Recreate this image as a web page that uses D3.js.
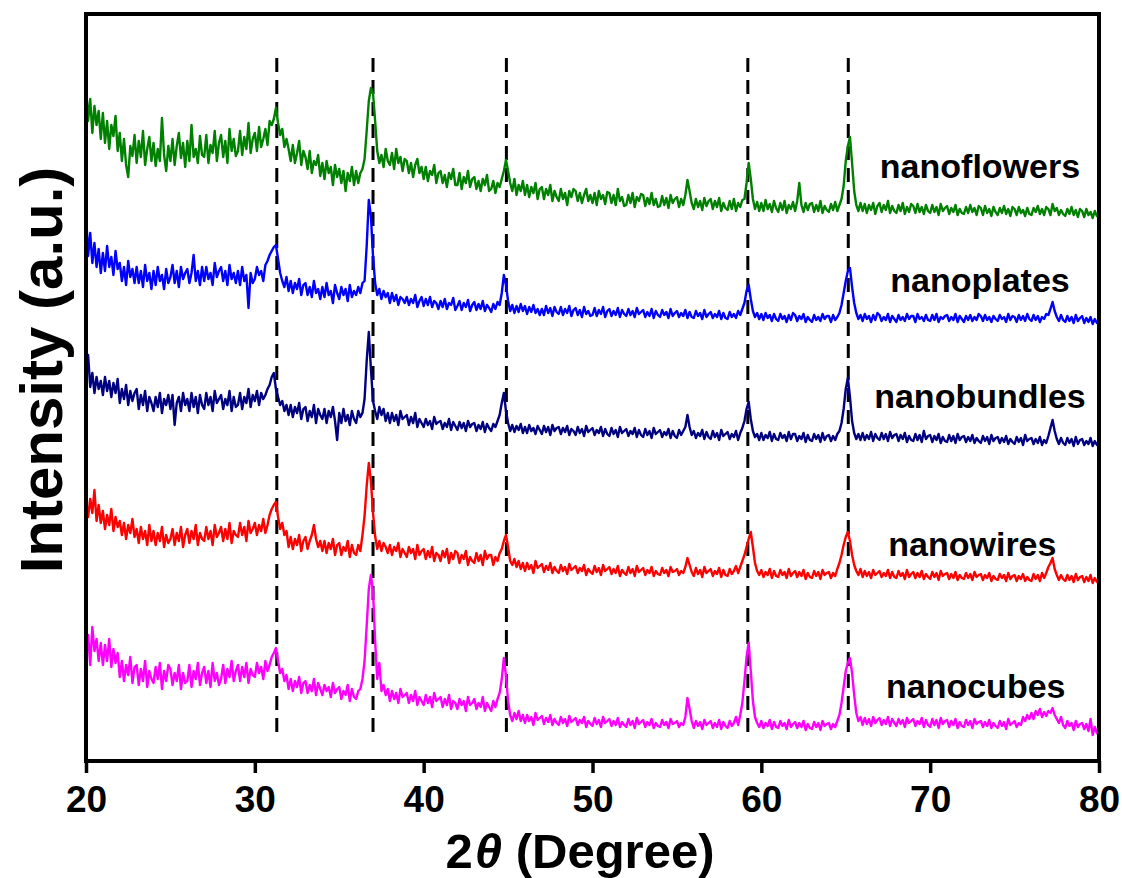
<!DOCTYPE html>
<html>
<head>
<meta charset="utf-8">
<script src="https://cdn.jsdelivr.net/npm/d3@7"></script>
<style>
  html, body { margin: 0; padding: 0; background: #fff; }
  svg { display: block; }
  text { font-family: "Liberation Sans", Arial, sans-serif; font-weight: bold; fill: #000; }
</style>
</head>
<body>
<svg id="chart" width="1122" height="878"></svg>
<script>
// 2θ grid: 20° to 80° in 0.125° steps (481 points per pattern, 8 per row = 1°)
const twoThetaStart = 20;
const twoThetaStep = 0.125;

// Stacked XRD intensities (a.u., vertical offset included), top to bottom
const nanoflowers = [
  676, 640, 662, 628, 655, 636, 650, 622,
  648, 618, 640, 612, 636, 625, 645, 610,
  628, 600, 622, 596, 584, 615, 605, 626,
  598, 620, 604, 630, 596, 612, 624, 600,
  618, 595, 612, 600, 643, 606, 590, 615,
  600, 622, 596, 615, 628, 603, 618, 594,
  620, 600, 636, 604, 612, 598, 625, 606,
  604, 626, 598, 616, 608, 630, 600, 618,
  626, 604, 620, 598, 632, 610, 622, 605,
  610, 630, 606, 624, 612, 638, 608, 622,
  628, 610, 634, 614, 622, 632, 616, 640,
  636, 642, 653, 638, 626, 632, 614, 622,
  612, 600, 616, 598, 608, 620, 596, 610,
  604, 592, 610, 588, 600, 596, 606, 585,
  598, 582, 600, 588, 594, 576, 596, 584,
  592, 578, 590, 570, 588, 580, 594, 576,
  590, 578, 588, 592, 602, 630, 660, 673,
  668, 640, 610, 598, 606, 594, 612, 600,
  596, 608, 592, 612, 598, 604, 590, 602,
  600, 588, 598, 584, 596, 602, 588, 594,
  582, 594, 580, 590, 586, 596, 578, 588,
  590, 578, 586, 574, 588, 582, 592, 576,
  576, 588, 572, 584, 578, 590, 574, 582,
  584, 572, 580, 570, 582, 576, 586, 570,
  572, 580, 568, 578, 574, 582, 590, 601,
  590, 578, 570, 582, 566, 576, 570, 580,
  566, 576, 564, 574, 568, 578, 562, 572,
  574, 562, 572, 566, 576, 560, 570, 564,
  560, 572, 562, 568, 556, 570, 564, 572,
  570, 560, 568, 558, 566, 572, 560, 566,
  558, 568, 556, 570, 562, 566, 557, 569,
  568, 558, 566, 556, 572, 560, 564, 555,
  556, 566, 558, 568, 554, 564, 560, 567,
  566, 555, 563, 557, 568, 556, 562, 554,
  555, 565, 556, 563, 553, 566, 558, 562,
  564, 554, 562, 556, 566, 581, 570, 558,
  552, 562, 554, 560, 551, 563, 555, 560,
  562, 552, 560, 554, 563, 550, 558, 553,
  551, 560, 552, 562, 550, 558, 554, 561,
  562, 578, 598, 582, 562, 552, 559, 550,
  558, 550, 561, 552, 557, 549, 560, 553,
  549, 558, 551, 560, 548, 556, 552, 559,
  550, 560, 578, 556, 549, 558, 551, 557,
  558, 549, 556, 550, 560, 548, 555, 551,
  549, 557, 551, 559, 550, 556, 562, 575,
  600, 615, 624, 598, 570, 556, 550, 558,
  550, 557, 548, 556, 551, 558, 547, 555,
  558, 549, 556, 551, 560, 548, 555, 550,
  548, 556, 550, 558, 547, 554, 549, 557,
  555, 548, 557, 549, 554, 547, 556, 550,
  548, 556, 549, 554, 546, 557, 550, 553,
  555, 547, 553, 549, 556, 546, 552, 548,
  547, 554, 548, 556, 549, 553, 546, 555,
  553, 546, 555, 548, 552, 545, 554, 549,
  546, 553, 548, 555, 547, 552, 545, 554,
  552, 546, 554, 548, 551, 545, 553, 547,
  546, 553, 549, 555, 547, 552, 546, 554,
  552, 546, 557, 550, 553, 546, 551, 547,
  545, 552, 547, 554, 546, 551, 544, 552,
  550, 544, 552, 546, 549, 543, 550, 545,
  546
];
const nanoplates = [
  549, 505, 528, 498, 518, 494, 512, 488,
  508, 490, 515, 494, 504, 486, 510, 492,
  498, 480, 494, 476, 500, 484, 492, 478,
  494, 478, 490, 474, 496, 480, 488, 472,
  490, 476, 494, 480, 486, 472, 492, 478,
  484, 496, 478, 490, 474, 494, 482, 488,
  492, 478, 488, 506, 480, 490, 476, 494,
  480, 494, 482, 488, 476, 498, 484, 490,
  494, 480, 490, 476, 496, 482, 488, 478,
  490, 476, 494, 480, 486, 453, 488, 478,
  482, 494, 486, 490, 480, 496, 500, 506,
  510, 514, 516, 502, 488, 480, 474, 484,
  470, 480, 468, 478, 472, 482, 466, 476,
  478, 466, 474, 464, 480, 468, 472, 462,
  474, 464, 478, 466, 470, 458, 476, 468,
  462, 474, 466, 472, 460, 476, 464, 470,
  466, 474, 468, 478, 480, 515, 561, 545,
  505, 478, 466, 472, 462, 470, 464, 468,
  458, 468, 460, 466, 456, 464, 462, 458,
  464, 456, 462, 458, 466, 454, 460, 464,
  455, 462, 456, 464, 454, 460, 458, 452,
  460, 454, 462, 452, 458, 456, 463, 451,
  455, 460, 451, 458, 454, 461, 450, 456,
  459, 451, 457, 452, 460, 450, 456, 453,
  449, 457, 452, 459, 456, 468, 486, 476,
  460, 450, 456, 448, 455, 449, 457, 450,
  455, 447, 454, 449, 456, 448, 452, 446,
  452, 446, 455, 448, 453, 445, 454, 449,
  447, 454, 446, 452, 448, 455, 445, 451,
  453, 446, 451, 444, 454, 447, 450, 445,
  446, 453, 445, 451, 447, 454, 444, 450,
  452, 445, 450, 446, 453, 444, 451, 447,
  445, 452, 446, 450, 444, 453, 447, 449,
  451, 444, 449, 445, 452, 443, 450, 446,
  444, 451, 446, 449, 443, 452, 445, 448,
  450, 444, 448, 445, 451, 443, 449, 444,
  443, 450, 445, 448, 442, 451, 444, 447,
  449, 443, 447, 444, 450, 442, 448, 443,
  442, 449, 444, 447, 443, 450, 446, 452,
  458, 470, 476, 462, 450, 444, 448, 442,
  447, 441, 448, 443, 446, 440, 447, 442,
  440, 447, 442, 445, 439, 446, 441, 448,
  446, 440, 445, 442, 447, 439, 444, 441,
  439, 446, 441, 444, 440, 447, 442, 445,
  445, 439, 446, 441, 444, 448, 456, 468,
  480, 490, 493, 474, 458, 448, 442, 446,
  440, 447, 442, 445, 439, 446, 441, 448,
  446, 440, 444, 441, 447, 439, 445, 442,
  439, 446, 441, 444, 440, 447, 442, 445,
  445, 439, 447, 442, 444, 440, 446, 441,
  440, 446, 441, 447, 439, 444, 442, 445,
  446, 440, 444, 441, 447, 439, 445, 442,
  439, 445, 441, 446, 440, 444, 441, 447,
  445, 440, 446, 441, 444, 439, 445, 442,
  440, 446, 442, 444, 439, 447, 441, 445,
  444, 439, 446, 441, 445, 440, 447, 442,
  440, 446, 441, 445, 439, 444, 442, 447,
  446, 452, 459, 450, 444, 440, 446, 441,
  439, 445, 440, 444, 438, 446, 440, 443,
  445, 438, 443, 439, 444, 437, 442, 438,
  440
];
const nanobundles = [
  392, 406, 374, 388, 368, 384, 372, 380,
  366, 384, 370, 380, 364, 378, 368, 382,
  358, 372, 362, 376, 356, 370, 360, 368,
  372, 352, 366, 356, 370, 350, 364, 358,
  350, 364, 354, 368, 348, 362, 356, 366,
  352, 366, 336, 358, 364, 350, 368, 356,
  362, 350, 368, 354, 364, 348, 366, 356,
  352, 368, 356, 364, 350, 370, 358, 362,
  366, 352, 362, 356, 370, 350, 364, 354,
  356, 368, 352, 364, 358, 372, 354, 366,
  360, 370, 356, 368, 362, 366, 372, 376,
  384, 388, 372, 364, 356, 360, 350, 356,
  346, 356, 344, 354, 348, 358, 342, 352,
  354, 340, 350, 344, 356, 338, 352, 346,
  342, 352, 338, 350, 344, 354, 340, 321,
  348, 338, 352, 340, 346, 336, 350, 342,
  338, 350, 344, 348, 362, 400, 429, 392,
  360, 350, 342, 354, 346, 352, 340, 348,
  338, 348, 340, 346, 336, 350, 342, 344,
  346, 336, 344, 338, 348, 334, 342, 338,
  334, 342, 336, 340, 332, 344, 337, 339,
  340, 332, 338, 334, 342, 331, 339, 335,
  331, 339, 333, 338, 330, 340, 334, 337,
  338, 330, 336, 332, 339, 329, 337, 333,
  330, 337, 334, 340, 346, 358, 368, 350,
  338, 330, 336, 329, 335, 331, 337, 328,
  334, 328, 336, 330, 333, 327, 335, 331,
  327, 335, 329, 334, 326, 336, 330, 333,
  334, 327, 333, 329, 335, 326, 332, 330,
  326, 334, 328, 332, 325, 335, 329, 331,
  333, 326, 331, 328, 334, 325, 332, 327,
  325, 333, 327, 331, 324, 334, 328, 330,
  332, 325, 330, 327, 333, 324, 331, 326,
  324, 332, 326, 330, 323, 333, 327, 329,
  331, 324, 329, 326, 332, 323, 330, 325,
  323, 331, 326, 330, 334, 346, 334, 326,
  330, 323, 328, 325, 331, 322, 329, 324,
  322, 330, 324, 328, 321, 331, 325, 327,
  329, 322, 327, 324, 330, 321, 328, 333,
  340, 352, 359, 342, 330, 324, 327, 321,
  328, 321, 326, 323, 329, 320, 327, 322,
  321, 328, 323, 326, 320, 329, 322, 327,
  327, 320, 325, 322, 328, 319, 326, 321,
  320, 327, 322, 326, 319, 328, 321, 325,
  326, 320, 325, 321, 327, 330, 338, 352,
  372, 383, 364, 340, 328, 322, 327, 321,
  328, 321, 326, 322, 329, 320, 327, 323,
  321, 328, 322, 327, 320, 329, 323, 326,
  327, 320, 326, 322, 328, 319, 325, 321,
  320, 327, 321, 326, 319, 330, 322, 325,
  326, 319, 325, 321, 327, 318, 324, 320,
  319, 326, 320, 325, 318, 327, 321, 324,
  325, 319, 324, 320, 326, 318, 323, 320,
  318, 325, 320, 324, 317, 326, 320, 323,
  324, 318, 323, 319, 325, 317, 322, 319,
  317, 324, 319, 323, 316, 326, 320, 322,
  323, 317, 322, 318, 324, 316, 321, 318,
  325, 333, 341, 330, 322, 317, 323, 318,
  316, 323, 318, 322, 315, 324, 317, 321,
  322, 316, 320, 317, 323, 315, 320, 316,
  318
];
const nanowires = [
  258, 244, 262, 248, 271, 240, 256, 238,
  250, 232, 246, 236, 252, 230, 244, 234,
  240, 226, 238, 222, 236, 228, 242, 224,
  232, 218, 234, 222, 230, 216, 236, 220,
  230, 216, 228, 220, 234, 214, 226, 218,
  222, 232, 216, 228, 220, 234, 214, 226,
  232, 218, 230, 222, 236, 216, 228, 222,
  220, 234, 222, 230, 216, 236, 224, 228,
  234, 220, 232, 222, 238, 218, 230, 226,
  224, 238, 226, 234, 220, 240, 228, 232,
  238, 226, 236, 230, 242, 228, 236, 246,
  252, 256, 259, 244, 232, 238, 226, 230,
  214, 224, 212, 222, 216, 226, 210, 220,
  224, 212, 220, 226, 236, 222, 214, 220,
  210, 220, 208, 218, 212, 222, 206, 216,
  218, 206, 214, 210, 220, 204, 216, 208,
  206, 216, 210, 226, 245, 275, 298, 280,
  248, 225, 212, 220, 210, 218, 214, 208,
  216, 206, 214, 210, 218, 204, 212, 208,
  204, 214, 208, 212, 202, 216, 206, 210,
  212, 202, 210, 204, 214, 200, 208, 206,
  200, 210, 204, 212, 198, 208, 202, 210,
  208, 198, 206, 202, 210, 196, 204, 200,
  198, 208, 200, 206, 196, 210, 202, 206,
  206, 196, 204, 200, 208, 212, 220, 226,
  214, 200, 196, 202, 194, 200, 192, 198,
  190, 198, 192, 196, 188, 200, 193, 195,
  197, 189, 195, 191, 198, 188, 194, 190,
  188, 196, 190, 194, 187, 197, 191, 193,
  195, 188, 193, 190, 196, 186, 192, 189,
  187, 195, 189, 193, 186, 196, 190, 192,
  194, 187, 192, 188, 195, 185, 191, 188,
  186, 194, 188, 192, 185, 195, 189, 191,
  193, 186, 191, 188, 194, 185, 190, 187,
  186, 193, 188, 191, 185, 194, 189, 190,
  192, 186, 190, 188, 194, 203, 196, 189,
  185, 193, 187, 191, 184, 194, 188, 190,
  192, 185, 190, 187, 193, 184, 191, 186,
  185, 192, 187, 190, 195, 188, 194, 200,
  206, 214, 222, 229, 214, 198, 190, 186,
  191, 184, 189, 186, 192, 183, 190, 185,
  184, 191, 186, 189, 183, 192, 185, 188,
  190, 184, 189, 185, 191, 182, 188, 184,
  183, 190, 185, 189, 182, 191, 186, 188,
  189, 183, 188, 185, 192, 198, 206, 216,
  224, 229, 220, 206, 196, 190, 186, 192,
  184, 190, 185, 189, 183, 191, 186, 188,
  190, 184, 188, 185, 191, 183, 189, 184,
  183, 190, 185, 188, 182, 191, 184, 187,
  189, 183, 188, 184, 190, 182, 187, 184,
  182, 189, 184, 188, 181, 190, 185, 187,
  188, 182, 187, 183, 189, 181, 186, 183,
  182, 188, 183, 187, 181, 189, 184, 186,
  187, 181, 186, 183, 188, 180, 185, 182,
  181, 187, 183, 186, 180, 188, 182, 185,
  186, 180, 185, 182, 187, 180, 184, 181,
  180, 187, 182, 186, 180, 188, 183, 188,
  194, 198, 203, 192, 186, 181, 186, 182,
  180, 186, 181, 185, 179, 187, 181, 184,
  185, 179, 184, 180, 186, 178, 183, 179,
  180
];
const nanocubes = [
  104, 126, 96, 134, 110, 122, 100, 118,
  96, 116, 100, 122, 94, 112, 98, 108,
  84, 100, 80, 96, 86, 104, 78, 94,
  96, 76, 92, 80, 100, 74, 90, 82,
  78, 94, 82, 98, 72, 90, 80, 96,
  92, 76, 88, 80, 96, 72, 88, 78,
  80, 96, 74, 90, 82, 98, 76, 88,
  94, 78, 90, 74, 98, 80, 88, 76,
  82, 96, 78, 92, 84, 100, 80, 90,
  96, 80, 94, 84, 98, 78, 92, 86,
  84, 98, 88, 94, 82, 100, 90, 96,
  104, 108, 113, 100, 88, 92, 80, 86,
  72, 82, 70, 80, 74, 84, 68, 78,
  80, 68, 76, 70, 82, 66, 78, 72,
  66, 76, 70, 74, 64, 78, 68, 72,
  74, 62, 70, 66, 76, 60, 72, 64,
  62, 70, 72, 82, 100, 135, 172, 186,
  170, 120, 82, 98, 70, 76, 66, 72,
  60, 70, 62, 68, 58, 72, 64, 66,
  68, 58, 66, 60, 70, 56, 64, 60,
  56, 66, 58, 64, 54, 68, 60, 62,
  64, 54, 62, 56, 66, 52, 60, 58,
  52, 62, 56, 60, 50, 64, 56, 58,
  62, 52, 58, 54, 64, 50, 58, 54,
  50, 60, 54, 62, 68, 82, 103, 85,
  60, 46, 40, 48, 42, 50, 40, 46,
  38, 46, 40, 44, 36, 48, 41, 43,
  45, 37, 43, 39, 46, 36, 42, 38,
  36, 44, 38, 42, 35, 45, 39, 41,
  43, 36, 41, 38, 44, 34, 40, 37,
  35, 43, 37, 41, 34, 44, 38, 40,
  42, 35, 40, 36, 43, 34, 39, 36,
  34, 42, 36, 40, 33, 43, 37, 39,
  41, 34, 39, 36, 42, 33, 38, 35,
  34, 41, 36, 39, 33, 42, 37, 38,
  40, 34, 38, 36, 44, 63, 52, 40,
  33, 40, 35, 39, 32, 41, 36, 38,
  40, 33, 38, 34, 41, 32, 39, 35,
  33, 40, 35, 38, 44, 36, 46, 58,
  80, 104, 118, 90, 60, 44, 38, 34,
  40, 33, 38, 35, 41, 32, 39, 34,
  33, 40, 35, 38, 32, 41, 34, 37,
  39, 33, 38, 34, 40, 31, 37, 33,
  32, 39, 34, 38, 31, 40, 35, 37,
  38, 32, 37, 34, 40, 46, 58, 74,
  90, 98, 103, 88, 66, 48, 40, 44,
  36, 43, 37, 42, 35, 44, 38, 41,
  43, 36, 41, 37, 44, 35, 42, 38,
  35, 42, 37, 41, 34, 43, 38, 40,
  42, 35, 40, 37, 43, 34, 41, 36,
  34, 42, 36, 41, 33, 43, 37, 40,
  41, 34, 40, 36, 42, 33, 39, 35,
  34, 41, 36, 40, 33, 42, 37, 39,
  40, 34, 39, 35, 41, 33, 38, 35,
  33, 40, 35, 39, 32, 42, 36, 38,
  40, 34, 38, 36, 44, 40, 46, 42,
  48, 42, 50, 46, 52, 44, 49, 45,
  50, 48, 53, 46, 42, 38, 44, 36,
  33, 40, 35, 38, 31, 40, 34, 37,
  38, 32, 37, 30, 42, 26, 34, 28,
  30
];

const sampleNames = ["nanoflowers", "nanoplates", "nanobundles", "nanowires", "nanocubes"];
const sampleColors = ["#008000", "#0000ff", "#000080", "#ff0000", "#ff00ff"];
const sampleSeries = [nanoflowers, nanoplates, nanobundles, nanowires, nanocubes];

// Reference reflections (2θ, degrees) marked with dashed guides
const reflections = [31.3, 37.0, 44.9, 59.2, 65.15];

// X-axis ticks
const xTicks = [20, 30, 40, 50, 60, 70, 80];

// ---- drawing ----
const svg = d3.select("#chart");
const plot = { left: 86, right: 1099, top: 14, bottom: 761 };

const x = d3.scaleLinear().domain([20, 80]).range([plot.left, plot.right]);
const y = d3.scaleLinear().domain([0, 747]).range([plot.bottom, plot.top]);

svg.append("defs").append("clipPath").attr("id", "plotClip")
  .append("rect")
  .attr("x", plot.left).attr("y", plot.top)
  .attr("width", plot.right - plot.left).attr("height", plot.bottom - plot.top);

// dashed reflection guides
const guideTop = 703, guideBottom = 23;
svg.append("g").selectAll("line").data(reflections).join("line")
  .attr("x1", d => x(d)).attr("x2", d => x(d))
  .attr("y1", y(guideTop)).attr("y2", y(guideBottom))
  .attr("stroke", "#000").attr("stroke-width", 3)
  .attr("stroke-dasharray", "14,8");

// diffraction patterns
const line = d3.line()
  .x((d, i) => x(twoThetaStart + i * twoThetaStep))
  .y(d => y(d));

svg.append("g").attr("clip-path", "url(#plotClip)")
  .selectAll("path").data(sampleSeries).join("path")
  .attr("d", d => line(d))
  .attr("fill", "none")
  .attr("stroke", (d, i) => sampleColors[i])
  .attr("stroke-width", 2.4)
  .attr("stroke-linejoin", "round");

// sample labels (2θ position, intensity at baseline)
const labelAnchors = [[72.95, 583], [72.95, 469], [72.95, 353], [72.5, 205], [72.7, 63]];
svg.append("g").selectAll("text").data(sampleNames).join("text")
  .attr("x", (d, i) => x(labelAnchors[i][0]))
  .attr("y", (d, i) => y(labelAnchors[i][1]))
  .attr("text-anchor", "middle")
  .attr("font-size", 34)
  .text(d => d);

// x axis
const xAxis = d3.axisBottom(x).tickValues(xTicks).tickSize(12).tickPadding(13)
  .tickFormat(d3.format("d"));
const gx = svg.append("g").attr("transform", `translate(0,${plot.bottom})`).call(xAxis);
gx.select(".domain").remove();
gx.selectAll(".tick line").attr("stroke", "#000").attr("stroke-width", 3.5);
gx.selectAll(".tick text")
  .attr("font-family", "Liberation Sans, Arial, sans-serif")
  .attr("font-weight", "bold")
  .attr("font-size", 37)
  .attr("fill", "#000");

// frame
svg.append("rect")
  .attr("x", plot.left).attr("y", plot.top)
  .attr("width", plot.right - plot.left).attr("height", plot.bottom - plot.top)
  .attr("fill", "none").attr("stroke", "#000").attr("stroke-width", 4);

// axis titles
const xt = svg.append("text")
  .attr("x", 580)
  .attr("y", 868)
  .attr("text-anchor", "middle")
  .attr("font-size", 49);
xt.append("tspan").text("2");
xt.append("tspan").attr("font-style", "italic").attr("dx", 2).text("θ");
xt.append("tspan").text(" (Degree)");

svg.append("text")
  .attr("transform", "translate(62,370) rotate(-90)")
  .attr("text-anchor", "middle")
  .attr("font-size", 60)
  .text("Intensity (a.u.)");
</script>
</body>
</html>
